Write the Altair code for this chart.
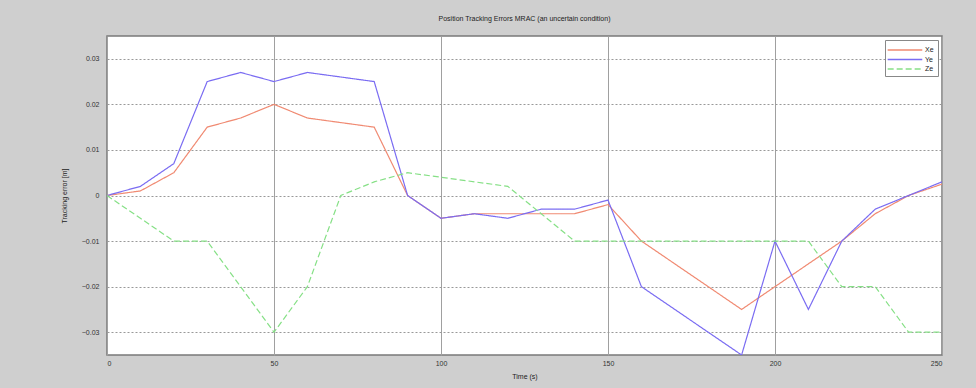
import altair as alt
import pandas as pd

t = list(range(0, 251, 10))
xe = [0, 0.001, 0.005, 0.015, 0.017, 0.020, 0.017, 0.016, 0.015, 0, -0.005, -0.004, -0.004,
      -0.004, -0.004, -0.002, -0.010, -0.015, -0.020, -0.025, -0.020, -0.015, -0.010, -0.004, 0, 0.0025]
ye = [0, 0.002, 0.007, 0.025, 0.027, 0.025, 0.027, 0.026, 0.025, 0, -0.005, -0.004, -0.005,
      -0.003, -0.003, -0.001, -0.020, -0.025, -0.030, -0.035, -0.010, -0.025, -0.010, -0.003, 0, 0.003]
ze = [0, -0.005, -0.010, -0.010, -0.020, -0.030, -0.020, 0, 0.003, 0.005, 0.004, 0.003, 0.002,
      -0.004, -0.010, -0.010, -0.010, -0.010, -0.010, -0.010, -0.010, -0.010, -0.020, -0.020, -0.030, -0.030]
series = ["Xe", "Ye", "Ze"]
colors = ["#f08a72", "#7a6cf2", "#86e086"]
x_ticks = [0, 50, 100, 150, 200, 250]
y_ticks = [-0.03, -0.02, -0.01, 0, 0.01, 0.02, 0.03]

rows = []
for name, vals in zip(series, [xe, ye, ze]):
    for ti, v in zip(t, vals):
        rows.append({"t": ti, "v": v, "s": name})
df = pd.DataFrame(rows)

font = "Liberation Sans"

legend_kw = dict(title=None, orient="top-right", offset=4,
                 fillColor="white", strokeColor="#888",
                 padding=4, symbolType="M-1.4,0H5.2",
                 symbolStrokeWidth=1.5, symbolSize=110,
                 labelFontSize=7, labelFont=font, labelOffset=24,
                 labelColor="#222", rowPadding=0.5)

chart = alt.Chart(df).mark_line(strokeWidth=1.2, clip=True).encode(
    x=alt.X("t:Q", scale=alt.Scale(domain=[0, 250], nice=False),
            axis=alt.Axis(title="Time (s)", values=x_ticks, labelExpr="datum.value",
                          grid=True, gridColor="#a0a0a0", gridWidth=1,
                          domain=False, ticks=False, labelPadding=4,
                          labelFontSize=7, labelColor="#333", labelFont=font,
                          titleFontSize=7, titleFont=font, titleFontWeight="normal",
                          titleColor="#222", titlePadding=6)),
    y=alt.Y("v:Q", scale=alt.Scale(domain=[-0.035, 0.035], nice=False),
            axis=alt.Axis(title="Tracking error [m]", values=y_ticks,
                          labelExpr="datum.value == 0 ? '0' : format(datum.value, '.2f')",
                          grid=True, gridColor="#999", gridDash=[2, 2], gridWidth=1,
                          domain=False, ticks=False, labelPadding=8,
                          labelFontSize=7, labelColor="#333", labelFont=font,
                          titleFontSize=7, titleFont=font, titleFontWeight="normal",
                          titleColor="#222", titlePadding=14)),
    color=alt.Color("s:N", scale=alt.Scale(domain=series, range=colors),
                    legend=alt.Legend(**legend_kw)),
    strokeDash=alt.StrokeDash("s:N", scale=alt.Scale(domain=series, range=[[1, 0], [1, 0], [6, 3]]),
                              legend=alt.Legend(**legend_kw)),
).properties(
    width=835, height=319,
    title=alt.TitleParams("Position Tracking Errors MRAC (an uncertain condition)",
                          fontSize=7, font=font, fontWeight="normal", color="#222",
                          offset=14),
    autosize=alt.AutoSizeParams(type="none"),
    padding={"left": 107, "top": 36, "right": 34, "bottom": 33},
    background="#cfcfcf",
).configure_view(fill="white", stroke="#7a7a7a", strokeWidth=1.5)

chart.save("out.html", embed_options={"renderer": "svg", "actions": False})
